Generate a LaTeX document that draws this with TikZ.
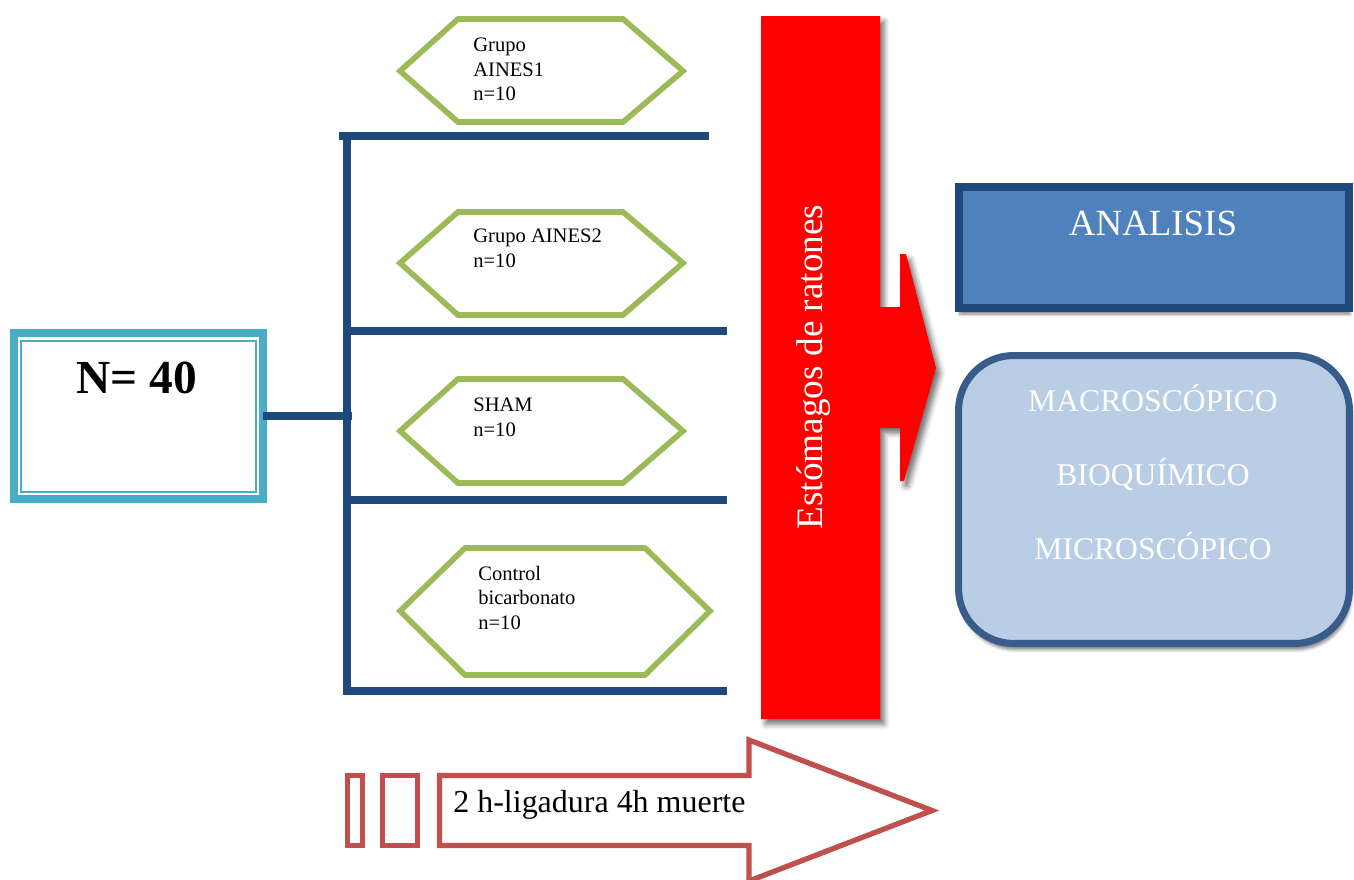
\documentclass[tikz,border=0pt]{standalone}
\usepackage{fontspec}
\setmainfont{Liberation Serif}
\usepackage{xcolor}
\usepackage{tikz}
\usetikzlibrary{shadows.blur}
\definecolor{aqua}{HTML}{4BACC6}
\definecolor{navy}{HTML}{1F497D}
\definecolor{leaf}{HTML}{9BBB59}
\definecolor{steel}{HTML}{4F81BD}
\definecolor{steeldark}{HTML}{385D8A}
\definecolor{pale}{HTML}{B9CDE5}
\definecolor{brick}{HTML}{C0504D}

\begin{document}
\begin{tikzpicture}[x=0.02cm, y=-0.02cm,
    bus/.style={navy, line width=4pt},
    hexa/.style={leaf, line width=3.2pt},
    grp/.style={anchor=north west, inner sep=0pt, align=left, font=\fontsize{11.7}{13.8}\selectfont},
    item/.style={white, anchor=base, inner sep=0pt, font=\fontsize{18}{20}\selectfont},
    timeline/.style={brick, line width=3pt, fill=white}]
\useasboundingbox (0,0) rectangle (1354,879);

\node[draw=aqua, line width=4.5pt, minimum width=4.98cm, minimum height=3.32cm, inner sep=0pt, outer sep=0pt] (nbox) at (138.5,416) {};
\draw[aqua, line width=1.1pt] ([shift={(7,8)}]nbox.north west) rectangle ([shift={(-7,-7)}]nbox.south east);
\node[font=\bfseries\fontsize{27}{30}\selectfont, anchor=base, inner sep=0pt] (ntxt) at (137,393) {N= 40};

\coordinate (jn) at (352,416);
\coordinate (bustop) at (347,133);
\coordinate (busbot) at (347,694.5);
\draw[bus] (nbox.east) -- (jn);
\draw[bus] (bustop) -- (busbot);
\draw[bus] (339,136) -- (709,136);
\foreach \y in {331,500,691}
    \draw[bus] (347,\y) -- (727,\y);

\draw[hexa] (400,71) -- (458,19) -- (623,19) -- (683,71) -- (623,122) -- (458,122) -- cycle;
\draw[hexa] (400,263) -- (458,212) -- (623,212) -- (683,263) -- (623,315) -- (458,315) -- cycle;
\draw[hexa] (400,431) -- (458,379) -- (623,379) -- (683,431) -- (623,483) -- (458,483) -- cycle;
\draw[hexa] (400,611) -- (465,548) -- (645,548) -- (710,611) -- (645,675) -- (465,675) -- cycle;
\node[grp] (g1) at (473,38) {Grupo\\AINES1\\n=10};
\node[grp] (g2) at (473,229) {Grupo AINES2\\n=10};
\node[grp] (g3) at (473,398) {SHAM\\n=10};
\node[grp] (g4) at (478,566) {Control\\bicarbonato\\n=10};

\fill[red, blur shadow={shadow xshift=2.5pt, shadow yshift=-3pt, shadow blur radius=3pt, shadow opacity=55}] (761,16) -- (880,16) -- (880,307) -- (900,307) -- (900,254) -- (906,254) -- (936,368) -- (904,481) -- (900,481) -- (900,428) -- (880,428) -- (880,719) -- (761,719) -- cycle;
\node[white, rotate=90, anchor=base, inner sep=0pt, font=\fontsize{21.2}{24}\selectfont] (estom) at (822,367) {Estómagos de ratones};

\node[draw=navy, fill=steel, line width=4.5pt, minimum width=7.8cm, minimum height=2.42cm, inner sep=0pt, outer sep=0pt, blur shadow={shadow xshift=0.5pt, shadow yshift=-3.5pt, shadow opacity=50}] (analisis) at (1154,247.5) {};
\node[white, anchor=base, inner sep=0pt, font=\fontsize{21}{24}\selectfont] (atxt) at (1153,235) {ANALISIS};

\node[draw=steeldark, fill=pale, line width=4pt, rounded corners=1.1cm, minimum width=7.82cm, minimum height=5.76cm, inner sep=0pt, outer sep=0pt, blur shadow={shadow xshift=1pt, shadow yshift=-3.5pt, shadow opacity=50}] (metodos) at (1154,499.5) {};
\node[item] (macro) at (1153,411) {MACROSCÓPICO};
\node[item] (bioq) at (1153,485) {BIOQUÍMICO};
\node[item] (micro) at (1153,559) {MICROSCÓPICO};

\draw[timeline] (347.5,775.5) rectangle (362.5,845.5);
\draw[timeline] (382.5,775.5) rectangle (417.5,845.5);
\draw[timeline] (439.5,775.5) -- (749,775.5) -- (749,740) -- (932,810.5) -- (749,881) -- (749,845.5) -- (439.5,845.5) -- cycle;
\node[anchor=base west, inner sep=0pt, font=\fontsize{18.2}{20}\selectfont] (tiempo) at (453,812) {2 h-ligadura 4h muerte};
\end{tikzpicture}
\end{document}
